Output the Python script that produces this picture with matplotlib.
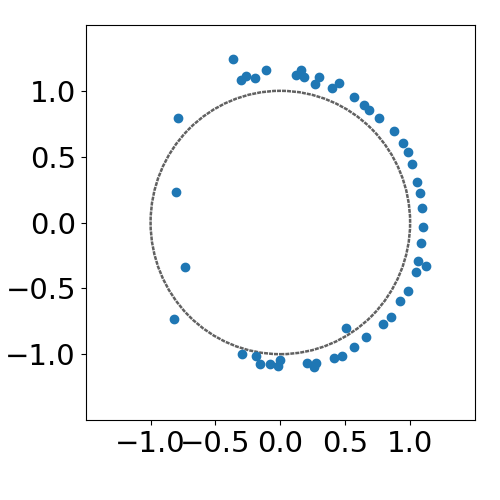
import numpy as np
import matplotlib
matplotlib.use("Agg")
import matplotlib.pyplot as plt

xs = [-0.367, -0.305, -0.267, -0.192, -0.110, 0.123, 0.156, 0.182, 0.264, 0.295,
      0.395, 0.449, 0.569, 0.641, 0.687, 0.764, 0.879, 0.949, 0.987, 1.018,
      1.056, 1.077, 1.092, 1.103, -0.785, -0.805,
      1.085, 1.064, 1.126, 1.049, 0.987, 0.923, 0.856, 0.792, 0.662, 0.569,
      0.503, 0.474, 0.415, 0.277, 0.256, 0.208, -0.005, -0.015, -0.077, -0.159,
      -0.190, -0.297, -0.736, -0.821]
ys = [1.240, 1.080, 1.113, 1.095, 1.159, 1.118, 1.159, 1.103, 1.050, 1.106,
      1.019, 1.060, 0.951, 0.890, 0.855, 0.792, 0.693, 0.602, 0.533, 0.442,
      0.305, 0.222, 0.108, -0.034, 0.794, 0.232,
      -0.158, -0.295, -0.331, -0.379, -0.523, -0.599, -0.721, -0.774, -0.870, -0.946,
      -0.804, -1.017, -1.032, -1.070, -1.096, -1.070, -1.045, -1.093, -1.078, -1.078,
      -1.017, -0.999, -0.341, -0.736]

# cercle unite
R = 1.0
lim = 1.5
ticks = [-1.0, -0.5, 0.0, 0.5, 1.0]

fig = plt.figure(figsize=(5, 5), dpi=100)
ax = fig.add_axes([85.7/500, 80/500, 389.3/500, 395/500])

circ = plt.Circle((0, 0), R, fill=False, color='0.38', lw=1.8, ls=(0, (1.6, 0.4)))
ax.add_patch(circ)
ax.scatter(xs, ys, color='#1f77b4', zorder=3)

ax.set_xlim(-lim, lim)
ax.set_ylim(-lim, lim)
ax.set_xticks(ticks)
ax.set_yticks(ticks)
ax.tick_params(labelsize=21)

fig.savefig("out.png", dpi=100)
